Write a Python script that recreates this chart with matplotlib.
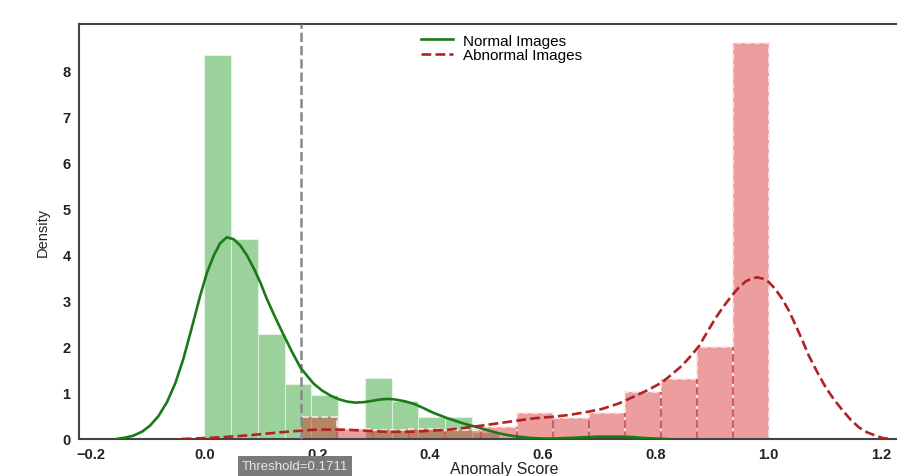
import numpy as np
import matplotlib
matplotlib.use("Agg")
import matplotlib.pyplot as plt
import matplotlib.transforms as mtransforms

# ---- data ----
threshold = 0.1711

normal_bin_edges_start = 0.0
normal_bin_width = 0.0474
normal_heights = [8.33, 4.35, 2.28, 1.20, 0.96, 0.0, 1.32, 0.83, 0.47, 0.47,
                  0.15, 0.0, 0.0, 0.0, 0.08, 0.08]

abnormal_bin_start = 0.1711
abnormal_bin_width = 0.0638
abnormal_heights = [0.47, 0.22, 0.20, 0.22, 0.20, 0.27, 0.56, 0.45, 0.56,
                    1.01, 1.30, 1.99, 8.60]

normal_kde_x = [-0.155, -0.140, -0.126, -0.110, -0.096, -0.081, -0.066, -0.051,
                -0.037, -0.022, -0.007, 0.005, 0.017, 0.028, 0.040, 0.052,
                0.064, 0.076, 0.088, 0.100, 0.111, 0.125, 0.141, 0.156, 0.171,
                0.183, 0.194, 0.209, 0.224, 0.239, 0.254, 0.268, 0.283, 0.298,
                0.313, 0.325, 0.337, 0.355, 0.372, 0.387, 0.402, 0.416, 0.431,
                0.446, 0.461, 0.476, 0.491, 0.505, 0.520, 0.535, 0.550, 0.565,
                0.580, 0.600, 0.620, 0.640, 0.660, 0.680, 0.700, 0.720, 0.740,
                0.760, 0.780, 0.800, 0.820]
normal_kde_y = [0.0, 0.03, 0.07, 0.16, 0.29, 0.50, 0.80, 1.22, 1.74, 2.42,
                3.12, 3.62, 3.99, 4.25, 4.38, 4.34, 4.20, 3.98, 3.70, 3.38,
                3.04, 2.66, 2.25, 1.88, 1.54, 1.36, 1.20, 1.05, 0.94, 0.86,
                0.81, 0.79, 0.80, 0.83, 0.86, 0.87, 0.86, 0.82, 0.76, 0.68,
                0.59, 0.52, 0.45, 0.39, 0.33, 0.28, 0.23, 0.18, 0.13, 0.09,
                0.06, 0.04, 0.02, 0.01, 0.01, 0.02, 0.03, 0.04, 0.05, 0.05,
                0.05, 0.04, 0.02, 0.01, 0.0]

abnormal_kde_x = [-0.04, 0.02, 0.08, 0.13, 0.171, 0.194, 0.224, 0.254, 0.283,
                  0.313, 0.342, 0.372, 0.401, 0.431, 0.461, 0.491, 0.526,
                  0.555, 0.585, 0.615, 0.645, 0.675, 0.704, 0.734, 0.763,
                  0.787, 0.811, 0.828, 0.846, 0.861, 0.876, 0.890, 0.905,
                  0.920, 0.935, 0.947, 0.959, 0.970, 0.980, 0.990, 1.000,
                  1.012, 1.024, 1.036, 1.048, 1.060, 1.071, 1.086, 1.101,
                  1.116, 1.131, 1.145, 1.160, 1.175, 1.190, 1.202, 1.214]
abnormal_kde_y = [0.0, 0.03, 0.08, 0.14, 0.18, 0.20, 0.205, 0.20, 0.18,
                  0.16, 0.155, 0.16, 0.18, 0.20, 0.24, 0.29, 0.35,
                  0.40, 0.45, 0.48, 0.52, 0.58, 0.65, 0.77, 0.93,
                  1.07, 1.23, 1.40, 1.59, 1.79, 2.01, 2.30, 2.61,
                  2.88, 3.12, 3.29, 3.42, 3.49, 3.51, 3.48, 3.41,
                  3.25, 3.04, 2.78, 2.46, 2.13, 1.81, 1.45, 1.12,
                  0.85, 0.62, 0.42, 0.25, 0.14, 0.07, 0.02, 0.0]

x_ticks = [-0.2, 0.0, 0.2, 0.4, 0.6, 0.8, 1.0, 1.2]
x_tick_labels = ['\u22120.2', '0.0', '0.2', '0.4', '0.6', '0.8', '1.0', '1.2']
y_ticks = [0, 1, 2, 3, 4, 5, 6, 7, 8]

# ---- plot ----
plt.rcParams['font.family'] = ['Liberation Sans', 'DejaVu Sans']
fig = plt.figure(figsize=(8.97, 4.77), dpi=100)
ax = fig.add_axes([0.088, 0.0776, 0.915, 0.8706])

n_left = [normal_bin_edges_start + i * normal_bin_width for i in range(len(normal_heights))]
ax.bar(n_left, normal_heights, width=normal_bin_width, align='edge',
       color='#2ca02c', alpha=0.47, edgecolor='white', linewidth=0.8, zorder=1)

a_left = [abnormal_bin_start + i * abnormal_bin_width for i in range(len(abnormal_heights))]
ax.bar(a_left, abnormal_heights, width=abnormal_bin_width, align='edge',
       color='#d62728', alpha=0.45, edgecolor='none', zorder=2)
ax.bar(a_left, abnormal_heights, width=abnormal_bin_width, align='edge',
       facecolor='none', edgecolor='#fbe3e3', linewidth=1.3,
       linestyle='--', zorder=2)
# darker dashed separators between adjacent abnormal bins
inner_x = a_left[1:]
inner_top = [min(abnormal_heights[i], abnormal_heights[i + 1])
             for i in range(len(abnormal_heights) - 1)]
ax.vlines(inner_x, 0, inner_top, colors='#c4484e', linestyles='--',
          linewidth=1.5, alpha=0.85, zorder=2)

ax.plot(normal_kde_x, normal_kde_y, color='#1a7a1a', lw=1.9, label='Normal Images', zorder=4)
ax.plot(abnormal_kde_x, abnormal_kde_y, color='#b22222', lw=1.9, ls='--',
        label='Abnormal Images', zorder=4)

ax.axvline(threshold, color='#888888', lw=1.8, ls='--', zorder=3)
trans = mtransforms.blended_transform_factory(ax.transData, ax.transAxes)
ax.text(threshold - 0.01, -0.064, 'Threshold=%.4f' % threshold, transform=trans,
        ha='center', va='center', fontsize=9.5, color='#e8e8e8',
        bbox=dict(boxstyle='square,pad=0.3', fc='#7a7a7a', ec='none'))

ax.set_xlim(-0.222, 1.232)
ax.set_ylim(0, 9.02)
ax.set_xticks(x_ticks)
ax.set_xticklabels(x_tick_labels)
ax.set_yticks(y_ticks)
ax.tick_params(axis='both', length=0, labelsize=10.5, colors='#222222', pad=6)
for lab in ax.get_xticklabels() + ax.get_yticklabels():
    lab.set_fontweight('bold')

ax.set_xlabel('Anomaly Score', fontsize=11.5, color='#222222')
ax.xaxis.set_label_coords(0.518, -0.071)
ax.xaxis.label.set_va('center')
ax.set_ylabel('Density', fontsize=10.5, color='#222222')
ax.yaxis.set_label_coords(-0.036, 0.5)

for side in ['left', 'bottom', 'top']:
    ax.spines[side].set_color('#444444')
    ax.spines[side].set_linewidth(1.5)
ax.spines['right'].set_visible(False)

leg = ax.legend(loc='upper left', bbox_to_anchor=(0.405, 0.998), frameon=False,
                fontsize=11, handlelength=2.1, labelspacing=0.05,
                borderaxespad=0.2, handletextpad=0.7)

fig.savefig('out.png', dpi=100)
